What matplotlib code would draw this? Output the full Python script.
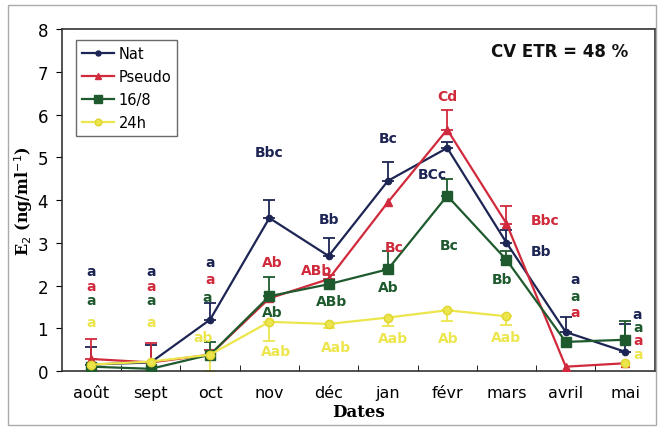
import numpy as np
import matplotlib
matplotlib.use("Agg")
import matplotlib.pyplot as plt
from matplotlib.patches import Rectangle

months = ["août", "sept", "oct", "nov", "déc", "jan", "févr", "mars", "avril", "mai"]

nat = [0.15, 0.20, 1.20, 3.58, 2.69, 4.45, 5.22, 3.00, 0.91, 0.45]
pseudo = [0.28, 0.20, 0.38, 1.70, 2.15, 3.95, 5.65, 3.45, 0.10, 0.18]
p168 = [0.10, 0.05, 0.38, 1.75, 2.03, 2.38, 4.10, 2.60, 0.68, 0.73]
h24 = [0.15, 0.22, 0.38, 1.15, 1.10, 1.25, 1.42, 1.28, np.nan, 0.18]

nat_err = [0.40, 0.40, 0.40, 0.42, 0.43, 0.45, 0.15, 0.30, 0.35, 0.65]
pseudo_err = [0.47, 0.45, 0.10, 0.0, 0.10, 0.0, 0.45, 0.42, 0.0, 0.0]
p168_err = [0.0, 0.0, 0.30, 0.45, 0.0, 0.42, 0.40, 0.20, 0.0, 0.45]
h24_err = [0.0, 0.0, 0.38, 0.45, 0.10, 0.20, 0.25, 0.20, 0.0, 0.0]

NAVY = "#1c2553"
RED = "#d02a3c"
GREEN = "#1f5a2e"
YELLOW = "#ece64c"

# letter annotations: (month index, y, text, color, x offset)
letters = [
    (0, 2.35, "a", NAVY, 0), (0, 2.00, "a", RED, 0), (0, 1.65, "a", GREEN, 0), (0, 1.15, "a", YELLOW, 0),
    (1, 2.35, "a", NAVY, 0), (1, 2.00, "a", RED, 0), (1, 1.65, "a", GREEN, 0), (1, 1.15, "a", YELLOW, 0),
    (2, 2.55, "a", NAVY, 0), (2, 2.15, "a", RED, 0), (2, 1.73, "a", GREEN, -0.05), (2, 0.80, "ab", YELLOW, -0.12),
    (3, 5.12, "Bbc", NAVY, 0), (3, 2.55, "Ab", RED, 0.05), (3, 1.38, "Ab", GREEN, 0.05), (3, 0.47, "Aab", YELLOW, 0.12),
    (4, 3.55, "Bb", NAVY, 0), (4, 2.36, "ABb", RED, -0.2), (4, 1.64, "ABb", GREEN, 0.05), (4, 0.56, "Aab", YELLOW, 0.12),
    (5, 5.45, "Bc", NAVY, 0), (5, 2.90, "Bc", RED, 0.1), (5, 1.96, "Ab", GREEN, 0), (5, 0.77, "Aab", YELLOW, 0.08),
    (6, 6.43, "Cd", RED, 0), (6, 4.60, "BCc", NAVY, -0.25), (6, 2.95, "Bc", GREEN, 0.03), (6, 0.77, "Ab", YELLOW, 0.02),
    (7, 3.53, "Bbc", RED, 0.65), (7, 2.80, "Bb", NAVY, 0.58), (7, 2.15, "Bb", GREEN, -0.08), (7, 0.80, "Aab", YELLOW, 0.0),
    (8, 2.15, "a", NAVY, 0.15), (8, 1.75, "a", GREEN, 0.15), (8, 1.38, "a", RED, 0.15),
    (9, 1.34, "a", NAVY, 0.2), (9, 1.03, "a", GREEN, 0.22), (9, 0.72, "a", RED, 0.22), (9, 0.40, "a", YELLOW, 0.22),
]

fig = plt.figure(figsize=(6.58, 4.31), dpi=100)
ax = fig.add_axes([0.094, 0.137, 0.901, 0.793])

x = np.arange(len(months))
zeros = np.zeros(len(months))

series = [
    ("Nat", nat, nat_err, NAVY, "o", 4.5, [zeros, nat_err]),
    ("Pseudo", pseudo, pseudo_err, RED, "^", 5.5, [zeros, pseudo_err]),
    ("16/8", p168, p168_err, GREEN, "s", 6.5, [zeros, p168_err]),
    ("24h", h24, h24_err, YELLOW, "o", 6, [h24_err, zeros]),
]

handles = []
for name, vals, err, col, mk, ms, yerr in series:
    v = np.array(vals, dtype=float)
    yerr_arr = np.array(yerr, dtype=float)
    mask = np.array(err) > 0
    ax.errorbar(x[mask], v[mask], yerr=yerr_arr[:, mask], fmt="none",
                ecolor=col, elinewidth=1.3, capsize=4, capthick=1.3, zorder=2)
    mec = "#e0d430" if col == YELLOW else col
    h, = ax.plot(x, v, color=col, lw=1.6, marker=mk, ms=ms,
                 mfc=col, mec=mec, label=name, zorder=3)
    handles.append(h)

for i, yv, txt, col, dx in letters:
    ax.text(i + dx, yv, txt, color=col, ha="center", va="center",
            fontsize=10, fontweight="bold", family="DejaVu Sans", zorder=4)

ax.set_xlim(-0.5, 9.5)
ax.set_ylim(0, 8)
ax.set_yticks(range(0, 9))
ax.tick_params(axis="y", labelsize=12, length=4, direction="out", pad=6)
ax.set_xticks(x)
ax.set_xticklabels(months, fontsize=11.5)
ax.tick_params(axis="x", length=0, pad=10)
ax.set_xticks(np.arange(0.5, 9.5, 1.0), minor=True)
ax.tick_params(axis="x", which="minor", length=4, direction="in")

for s in ax.spines.values():
    s.set_color("#333333")
    s.set_linewidth(1.2)

ax.set_xlabel("Dates", family="DejaVu Serif", fontweight="bold", fontsize=12, labelpad=2)
ax.set_ylabel(r"E$_2$ (ng/ml$^{-1}$)", family="DejaVu Serif", fontweight="bold",
              fontsize=11.5, labelpad=2)

leg = ax.legend(handles=handles, loc="upper left", bbox_to_anchor=(0.012, 0.99),
                fontsize=10.5, frameon=True, fancybox=False, edgecolor="#444444",
                handlelength=2.2, borderpad=0.4, labelspacing=0.55, handletextpad=0.3,
                markerscale=0.8)
leg.get_frame().set_linewidth(1.0)

ax.text(0.955, 0.935, "CV ETR = 48 %", transform=ax.transAxes, ha="right", va="center",
        fontsize=12, fontweight="bold", color="#111111")

fig.patches.append(Rectangle((0.012, 0.012), 0.985, 0.975, transform=fig.transFigure,
                             fill=False, edgecolor="#aaaaaa", linewidth=1.0))

fig.savefig("out.png", dpi=100)
